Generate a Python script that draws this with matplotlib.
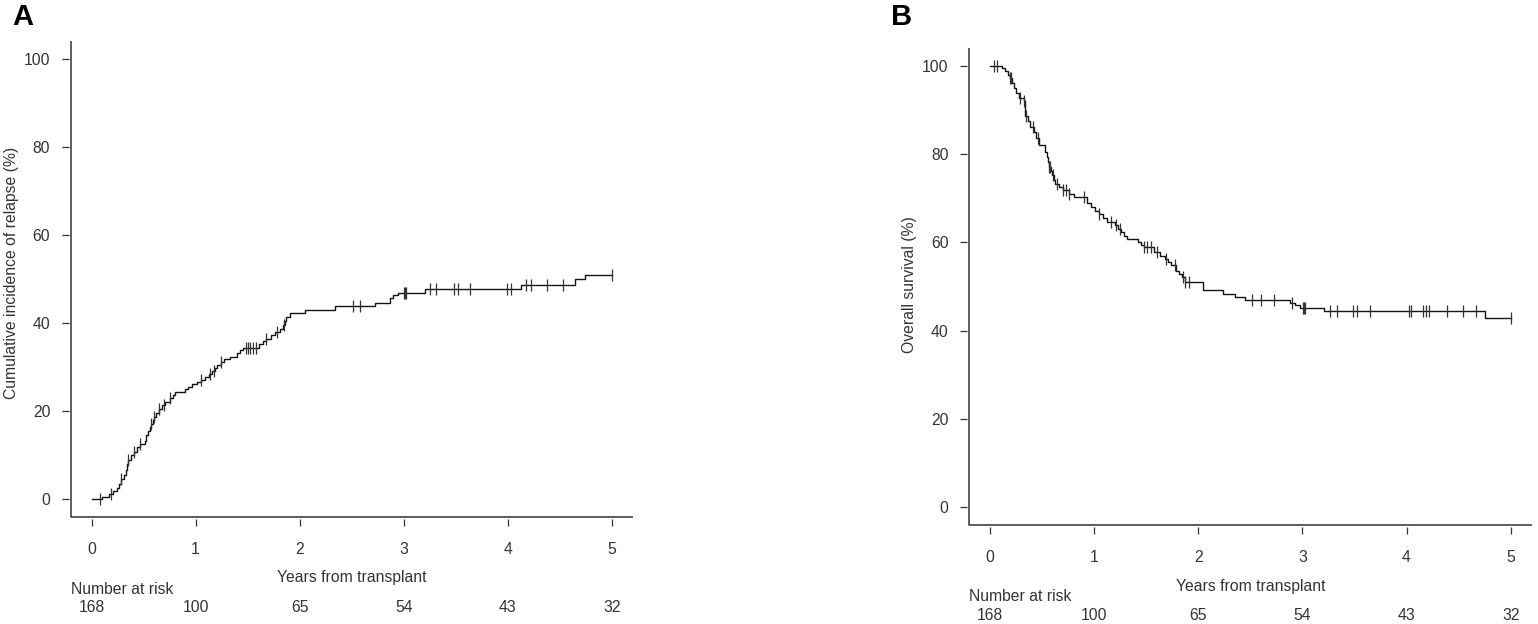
import numpy as np
import matplotlib
matplotlib.use("Agg")
import matplotlib.pyplot as plt
import matplotlib.transforms as mtransforms

plt.rcParams['font.family'] = ['Liberation Sans', 'DejaVu Sans']

# ---------------- data ----------------
years_ticks = [0, 1, 2, 3, 4, 5]
y_ticks = [0, 20, 40, 60, 80, 100]
number_at_risk = [168, 100, 65, 54, 43, 32]

# Panel A: cumulative incidence of relapse (%), step times and values after step
relapse_t = [0.00, 0.10, 0.17, 0.21, 0.24, 0.26, 0.28, 0.31, 0.33, 0.34, 0.35, 0.38,
             0.41, 0.44, 0.47, 0.51, 0.52, 0.54, 0.56, 0.57, 0.59, 0.60, 0.62, 0.65,
             0.68, 0.71, 0.75, 0.78, 0.80, 0.90, 0.93, 0.97, 1.01, 1.05, 1.09, 1.13,
             1.16, 1.19, 1.21, 1.24, 1.27, 1.33, 1.40, 1.43, 1.46, 1.61, 1.65, 1.68,
             1.72, 1.76, 1.81, 1.84, 1.86, 1.87, 1.91, 2.05, 2.34, 2.72, 2.87, 2.90,
             2.94, 3.20, 4.13, 4.64, 4.74, 5.00]
relapse_v = [0.0, 0.6, 1.2, 1.8, 2.6, 3.4, 4.7, 5.5, 6.6, 8.0, 9.0, 10.0,
             10.8, 11.9, 12.5, 13.2, 14.5, 15.5, 16.4, 17.2, 18.0, 18.7, 19.5, 20.6,
             21.4, 22.2, 22.9, 23.7, 24.4, 25.0, 25.6, 26.1, 26.6, 27.0, 27.7, 28.5,
             29.2, 29.8, 30.4, 31.1, 31.9, 32.4, 33.1, 33.8, 34.4, 35.3, 35.9, 36.5,
             37.2, 38.0, 38.7, 39.5, 40.5, 41.4, 42.3, 43.0, 43.8, 44.6, 45.7, 46.4,
             46.9, 47.7, 48.7, 49.9, 50.9, 50.9]
relapse_censor = [0.08, 0.19, 0.28, 0.35, 0.41, 0.47, 0.57, 0.60, 0.65, 0.70, 0.75,
                  1.05, 1.14, 1.18, 1.24, 1.48, 1.50, 1.52, 1.55, 1.58, 1.68, 1.78,
                  1.85, 2.51, 2.58, 3.00, 3.01, 3.02, 3.25, 3.31, 3.48, 3.52, 3.64,
                  3.99, 4.03, 4.17, 4.22, 4.38, 4.53, 5.00]

# Panel B: overall survival (%)
os_t = [0.00, 0.12, 0.15, 0.17, 0.19, 0.21, 0.23, 0.25, 0.28, 0.33, 0.335, 0.34,
        0.37, 0.39, 0.42, 0.44, 0.47, 0.53, 0.55, 0.56, 0.57, 0.59, 0.60, 0.62,
        0.63, 0.66, 0.70, 0.76, 0.81, 0.93, 0.97, 1.01, 1.05, 1.09, 1.12, 1.20,
        1.23, 1.26, 1.29, 1.32, 1.42, 1.45, 1.48, 1.58, 1.63, 1.68, 1.71, 1.74,
        1.79, 1.82, 1.84, 1.87, 2.05, 2.24, 2.35, 2.45, 2.88, 2.93, 2.98, 3.21,
        4.75, 5.00]
os_v = [100.0, 99.4, 98.7, 97.9, 97.2, 96.0, 94.9, 93.8, 92.7, 91.9, 90.0, 88.5,
        87.4, 86.2, 84.9, 83.6, 82.0, 80.5, 79.4, 78.2, 77.1, 76.1, 75.2, 74.2,
        73.3, 72.5, 71.8, 70.9, 70.2, 69.0, 68.0, 67.2, 66.4, 65.5, 64.6, 63.9,
        63.1, 62.3, 61.5, 60.8, 60.1, 59.5, 58.9, 57.8, 57.0, 56.3, 55.5, 54.8,
        53.6, 52.8, 52.1, 51.0, 49.2, 48.3, 47.6, 47.0, 46.2, 45.7, 45.2, 44.4,
        42.9, 42.9]
os_censor = [0.04, 0.07, 0.19, 0.20, 0.29, 0.33, 0.35, 0.41, 0.46, 0.57, 0.58, 0.61,
             0.64, 0.70, 0.73, 0.76, 0.90, 1.05, 1.16, 1.21, 1.25, 1.48, 1.51, 1.55,
             1.60, 1.69, 1.78, 1.85, 1.87, 1.91, 2.52, 2.60, 2.73, 2.90, 3.01, 3.02,
             3.03, 3.27, 3.33, 3.49, 3.52, 3.65, 4.02, 4.04, 4.16, 4.19, 4.22, 4.39,
             4.54, 4.67, 5.00]

# ---------------- layout ----------------
W, H = 1538, 624
fig = plt.figure(figsize=(W / 100, H / 100), dpi=100)
TXT = '#333333'
FS = 11.3


def px_rect(left, top, right, bottom):
    return [left / W, 1 - bottom / H, (right - left) / W, (bottom - top) / H]


def step_value(times, vals, t):
    idx = np.searchsorted(np.asarray(times), np.asarray(t), side='right') - 1
    idx = np.clip(idx, 0, len(vals) - 1)
    return np.asarray(vals)[idx]


def make_panel(rect, times, vals, censor, ylabel, ylab_xy, letter, letter_xy,
               base_xlab, base_nar, base_num):
    ax = fig.add_axes(px_rect(*rect))
    ax.set_xlim(-0.2, 5.2)
    ax.set_ylim(-4, 104)
    for s in ax.spines.values():
        s.set_visible(False)
    ax.spines['left'].set_position(('outward', 1.5))
    ax.spines['bottom'].set_position(('outward', 1.5))
    ax.plot([0, 0, 1], [1, 0, 0], transform=ax.transAxes, color=TXT, lw=1.1,
            clip_on=False, solid_capstyle='butt')
    ax.set_xticks(years_ticks)
    ax.set_yticks(y_ticks)
    ax.tick_params(axis='both', direction='out', length=5.2, width=0.9, color=TXT,
                   labelcolor=TXT, labelsize=FS)
    ax.tick_params(axis='x', pad=11.3)
    ax.tick_params(axis='y', pad=8.0)

    ax.plot(times, vals, drawstyle='steps-post', color='#151515', lw=1.0)
    cv = step_value(times, vals, censor)
    ax.plot(censor, cv, linestyle='none', marker='|', markersize=8.3,
            markeredgewidth=0.9, color='#333333')

    ax.text(ylab_xy[0], ylab_xy[1], ylabel, rotation=90, ha='center', va='center',
            transform=ax.transAxes, fontsize=FS, color=TXT)

    left, top, right, bottom = rect
    fig.text(letter_xy[0] / W, 1 - letter_xy[1] / H, letter, fontsize=21,
             fontweight='bold', ha='left', va='baseline', color='black')
    fig.text(((left + right) / 2) / W, 1 - base_xlab / H, 'Years from transplant',
             ha='center', va='baseline', fontsize=FS, color=TXT)
    fig.text(left / W, 1 - base_nar / H, 'Number at risk', ha='left',
             va='baseline', fontsize=FS, color=TXT)
    trans = mtransforms.blended_transform_factory(ax.transData, fig.transFigure)
    for t, n in zip(years_ticks, number_at_risk):
        ax.text(t, 1 - base_num / H, str(n), transform=trans, ha='center',
                va='baseline', fontsize=FS, color=TXT, clip_on=False)
    return ax


make_panel((70.7, 41, 632.8, 517), relapse_t, relapse_v, relapse_censor,
           'Cumulative incidence of relapse (%)', (-0.1062, 0.5126), 'A', (12, 25),
           582, 593.5, 611.7)
make_panel((969, 48, 1531.5, 525), os_t, os_v, os_censor,
           'Overall survival (%)', (-0.1049, 0.503), 'B', (891, 25),
           590.7, 601, 620)

fig.savefig('out.png', dpi=100)
